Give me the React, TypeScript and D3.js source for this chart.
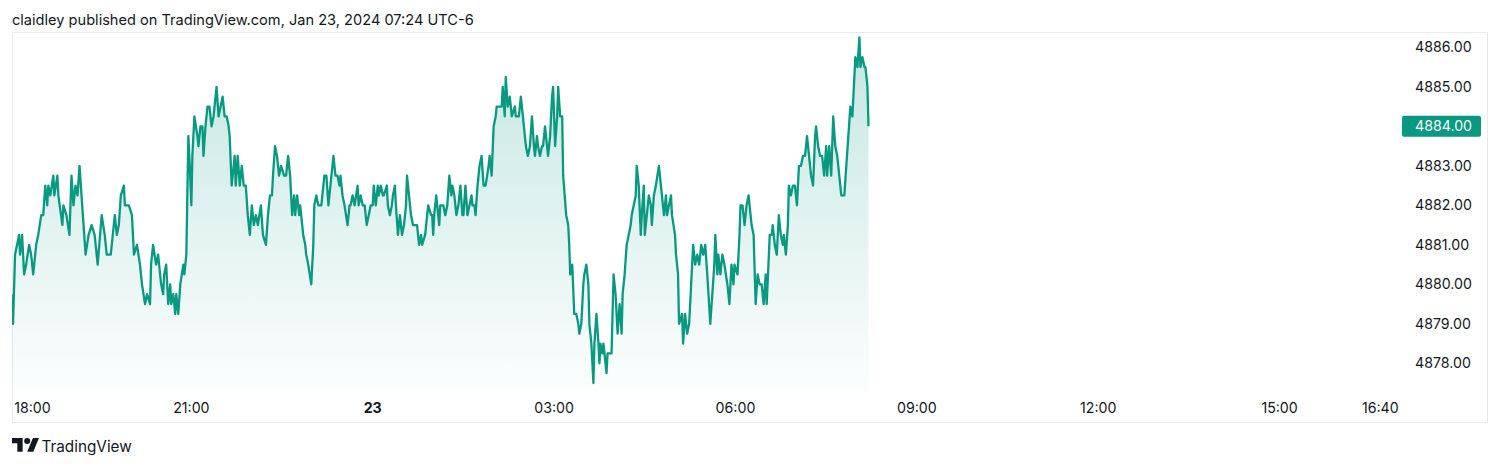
import React from "react";
import * as d3 from "d3";

// minutes after 18:00 (Jan 22), close price
const eveningCloses: [number, number][] = [
  [2,4879.75],[3,4879.0],[5,4880.75],[9,4881.25],[10,4880.75],[12,4881.25],[14,4880.25],[16,4880.5],[19,4881.0],[21,4880.75],[23,4880.25],[26,4881.0],[28,4881.25],[31,4881.75],[33,4881.75],[35,4882.5],[37,4882.0],[38,4882.5],[40,4882.25],[43,4882.75],[44,4882.25],[47,4882.75],[48,4882.25],[52,4881.5],[53,4882.0],[56,4881.75],[59,4881.25],[61,4882.75],[63,4882.0],[65,4882.5],[67,4882.25],[69,4883.0],[71,4882.25],[75,4880.75],[78,4881.25],[81,4881.5],[84,4881.25],[87,4880.5],[91,4881.75],[94,4881.25],[96,4880.75],[100,4880.75],[102,4881.25],[104,4881.75],[106,4881.25],[108,4881.5],[110,4882.25],[113,4882.5],[114,4882.0],[118,4882.0],[121,4881.75],[123,4880.75],[126,4881.0],[129,4880.5],[131,4880.0],[134,4879.5],[136,4879.75],[139,4879.5],[140,4880.5],[142,4881.0],[145,4880.5],
  [147,4880.75],[148,4880.5],[150,4880.0],[152,4879.75],[153,4880.25],[155,4880.5],[157,4879.5],[159,4880.0],[160,4879.5],[162,4879.75],[164,4879.25],[165,4879.75],[167,4879.25],[169,4880.0],[172,4880.5],[173,4880.25],[175,4880.75],[177,4883.75],[178,4883.25],[180,4882.0],[181,4883.25],[183,4884.25],[186,4883.75],[187,4883.5],[189,4884.0],[191,4884.0],[192,4883.25],[194,4884.0],[196,4884.5],[198,4884.5],[200,4884.0],[202,4884.25],[205,4885.0],[207,4884.25],[209,4884.5],[211,4884.75],[213,4884.25],[215,4884.25],[217,4884.0],[218,4883.75],[220,4882.5],[223,4883.25],[224,4882.5],[226,4883.25],[228,4882.5],[230,4883.0],[232,4882.5],[234,4882.5],[236,4881.75],[238,4881.25],[240,4882.0],[242,4881.5],[244,4881.75],[246,4881.5],[249,4882.0],[251,4881.25],[254,4881.0],[256,4881.75],[258,4882.25],[260,4882.25],[261,4882.75],[263,4883.5],[265,4883.25],[267,4882.75],[269,4883.0],[272,4882.75],[274,4882.75],[276,4883.25],[278,4882.75],[280,4881.75],[282,4882.25],[283,4881.75],[285,4882.25],[287,4881.75],
];

const overnightCloses: [number, number][] = [
  [288,4882.0],[289,4881.75],[291,4881.25],[293,4881.0],[294,4880.75],[296,4880.5],[299,4880.0],[301,4881.0],[302,4882.0],[304,4882.25],[306,4882.0],[309,4882.0],[312,4882.75],[314,4882.75],[316,4882.0],[318,4882.5],[321,4883.25],[323,4882.75],[325,4882.75],[327,4882.5],[328,4882.75],[330,4882.25],[332,4882.0],[335,4881.5],[337,4882.0],[338,4882.0],[340,4882.25],[342,4882.0],[345,4882.5],[346,4882.0],[348,4882.25],[350,4882.0],[352,4882.0],[354,4881.5],[356,4881.75],[358,4882.0],[360,4882.0],[361,4882.5],[363,4882.0],[365,4882.5],[366,4882.25],[368,4882.5],[370,4882.25],[371,4882.25],[374,4882.5],[375,4882.0],[377,4881.75],[379,4882.0],[380,4882.25],[382,4882.5],[383,4882.0],[385,4881.25],[387,4881.75],[389,4881.25],[391,4881.5],[393,4882.0],[394,4882.75],[396,4882.25],[398,4881.75],[400,4881.5],[403,4881.5],[404,4881.5],[406,4881.0],[408,4881.25],[409,4881.0],[412,4881.25],[414,4881.75],[415,4882.0],[418,4881.75],[419,4881.75],[420,4881.25],[421,4881.75],[423,4882.25],[424,4882.0],[426,4881.5],[427,4882.0],
  [430,4882.0],[432,4881.75],[434,4882.0],[436,4882.75],[438,4882.25],[439,4882.5],[441,4882.25],[443,4881.75],[445,4882.0],[447,4882.5],[449,4881.75],[450,4881.75],[452,4882.5],[454,4881.75],[456,4882.0],[458,4882.25],[459,4882.0],[461,4882.0],[462,4881.75],[464,4882.5],[466,4883.0],[468,4883.25],[470,4882.5],[472,4882.5],[475,4883.0],[476,4883.25],[478,4882.75],[480,4884.0],[482,4884.25],[483,4884.5],[486,4884.5],[488,4884.5],[489,4885.0],[491,4884.25],[492,4885.25],[494,4884.5],[496,4884.75],[498,4884.25],[501,4884.5],[502,4884.25],[505,4884.25],[507,4884.75],[509,4884.25],[510,4884.0],[512,4883.5],[514,4883.25],[516,4883.5],[518,4884.25],[520,4883.5],[521,4883.25],[523,4883.75],[524,4883.5],[526,4883.25],[528,4883.5],[529,4883.5],[531,4884.0],[534,4883.25],[536,4883.75],[538,4884.75],[539,4885.0],[541,4883.5],[543,4884.25],[544,4885.0],[546,4884.25],[548,4884.25],[549,4882.75],[552,4881.75],[554,4881.5],[555,4881.0],[556,4880.25],[558,4880.5],[560,4879.25],
];

const morningCloses: [number, number][] = [
  [562,4879.25],[564,4879.0],[565,4878.75],[567,4879.0],[569,4880.0],[570,4880.25],[572,4880.5],[574,4880.0],[575,4879.0],[577,4878.5],[579,4877.5],[580,4878.5],[582,4879.25],[584,4878.5],[585,4878.0],[586,4878.5],[588,4878.25],[589,4878.5],[592,4877.75],[593,4878.25],[595,4878.25],[597,4878.25],[599,4880.25],[601,4879.75],[603,4878.75],[605,4879.5],[607,4878.75],[608,4879.75],[610,4880.25],[612,4881.0],[614,4881.25],[616,4881.5],[617,4881.75],[619,4882.0],[621,4882.25],[622,4883.0],[624,4882.5],[626,4881.25],[627,4881.75],[629,4882.5],[630,4881.25],[632,4881.75],[634,4882.25],[636,4882.0],[637,4881.5],[639,4882.25],[641,4882.5],[644,4883.0],[645,4882.75],[647,4882.25],[649,4881.75],[651,4882.25],[652,4881.75],[654,4882.0],[656,4882.25],[657,4881.75],[660,4881.25],[661,4880.75],[663,4880.25],[664,4879.0],[667,4879.25],[668,4878.5],[670,4879.25],[672,4878.75],[674,4879.0],[676,4880.0],[678,4881.0],[680,4880.5],[682,4880.75],[684,4880.5],[686,4881.0],[688,4880.75],[690,4881.0],[692,4880.25],[695,4879.0],[697,4879.75],[699,4880.5],[700,4881.25],[702,4880.25],[703,4880.75],[705,4880.25],[707,4880.75],[709,4880.5],
  [712,4880.0],[714,4879.5],[716,4880.5],[718,4880.0],[719,4880.5],[722,4880.25],[724,4881.25],[725,4882.0],[727,4882.0],[729,4881.5],[731,4882.0],[733,4882.25],[734,4882.0],[736,4881.5],[738,4881.25],[740,4879.5],[742,4880.25],[744,4880.0],[746,4880.0],[748,4879.5],[750,4880.25],[751,4879.5],[754,4881.25],[756,4881.25],[757,4881.5],[759,4881.0],[761,4880.75],[763,4881.75],[765,4881.25],[767,4881.0],[768,4881.25],[770,4880.75],[772,4881.5],[773,4882.5],[775,4882.25],[777,4882.5],[779,4882.5],[781,4882.0],[782,4882.5],[783,4883.0],[785,4883.0],[787,4883.25],[789,4883.25],[791,4883.75],[793,4883.25],[795,4882.75],[797,4882.5],[799,4883.75],[800,4884.0],[802,4883.5],[804,4883.25],[806,4883.25],[808,4882.75],[810,4883.5],[811,4882.75],[813,4883.5],[815,4882.75],[817,4884.25],[819,4883.5],[821,4883.25],[823,4882.75],[825,4882.25],[828,4882.25],[830,4883.0],[832,4883.75],[834,4884.5],[836,4884.25],[838,4885.25],[839,4885.75],[841,4885.5],[843,4886.25],[844,4885.5],[846,4885.75],[848,4885.5],[849,4885.5],[851,4885.0],[852,4884.0],
];

const priceTicks = [4878, 4879, 4880, 4881, 4882, 4883, 4884, 4885, 4886];
const timeTickMinutes = [0, 180, 360, 540, 720, 900, 1080, 1260, 1360];
const timeTickLabels = ["18:00", "21:00", "23", "03:00", "06:00", "09:00", "12:00", "15:00", "16:40"];
const boldTimeTicks = ["23"];

const headerText = "claidley published on TradingView.com, Jan 23, 2024 07:24 UTC-6";
const GREEN = "#089981";
const TEXT = "#131722";
const FONT = "Inter, 'Noto Sans', sans-serif";

export default function App() {
  const data = [...eveningCloses, ...overnightCloses, ...morningCloses];
  const x = d3.scaleLinear().domain([0, 1380]).range([10, 1400.5]);
  const y = d3.scaleLinear().domain([4878, 4886]).range([363.3, 47.3]);
  const paneBottom = 392;

  const line = d3.line<[number, number]>().x((d) => x(d[0])).y((d) => y(d[1]));
  const area = d3
    .area<[number, number]>()
    .x((d) => x(d[0]))
    .y0(paneBottom)
    .y1((d) => y(d[1]));

  const last = data[data.length - 1];
  const lastY = y(last[1]);

  return (
    <svg
      width={1500}
      height={466}
      style={{ position: "absolute", left: 0, top: 0, display: "block", background: "#fff" }}
      fontFamily={FONT}
    >
      <defs>
        <linearGradient id="areaFill" gradientUnits="userSpaceOnUse" x1={0} y1={35} x2={0} y2={paneBottom}>
          <stop offset="0%" stopColor={GREEN} stopOpacity={0.24} />
          <stop offset="100%" stopColor={GREEN} stopOpacity={0.01} />
        </linearGradient>
        <clipPath id="pane">
          <rect x={12} y={32} width={1380} height={paneBottom - 32} />
        </clipPath>
      </defs>

      <text x={12} y={24.5} fontSize={14.6} fill={TEXT}>
        {headerText}
      </text>

      <rect x={12.5} y={32.5} width={1475} height={390} fill="none" stroke="#e8ebf0" strokeWidth={1} />

      <g clipPath="url(#pane)">
        <path d={area(data) || ""} fill="url(#areaFill)" />
        <path d={line(data) || ""} fill="none" stroke={GREEN} strokeWidth={2.3} strokeLinejoin="round" />
      </g>

      {priceTicks.map((p) => (
        <text key={p} x={1415} y={y(p)} dy="0.36em" fontSize={14.2} fill={TEXT}>
          {p.toFixed(2)}
        </text>
      ))}

      <rect x={1402} y={lastY - 10.5} width={79} height={21} rx={2} fill={GREEN} />
      <text x={1415} y={lastY} dy="0.36em" fontSize={14.2} fill="#fff">
        {last[1].toFixed(2)}
      </text>

      {timeTickMinutes.map((m, i) => {
        const label = timeTickLabels[i];
        const cx = Math.max(x(m), 32.5);
        return (
          <text
            key={label}
            x={cx}
            y={412.5}
            textAnchor="middle"
            fontSize={14.2}
            fontWeight={boldTimeTicks.includes(label) ? 700 : 400}
            fill={TEXT}
          >
            {label}
          </text>
        );
      })}

      <g transform="translate(12,435) scale(0.76)" fill={TEXT}>
        <path d="M14 22H7V11H0V4h14v18zM28 22h-8l7.5-18h8L28 22z" />
        <circle cx={20} cy={8} r={4} />
      </g>
      <text x={41.5} y={451.5} fontSize={15.3} fill={TEXT}>
        TradingView
      </text>
    </svg>
  );
}
